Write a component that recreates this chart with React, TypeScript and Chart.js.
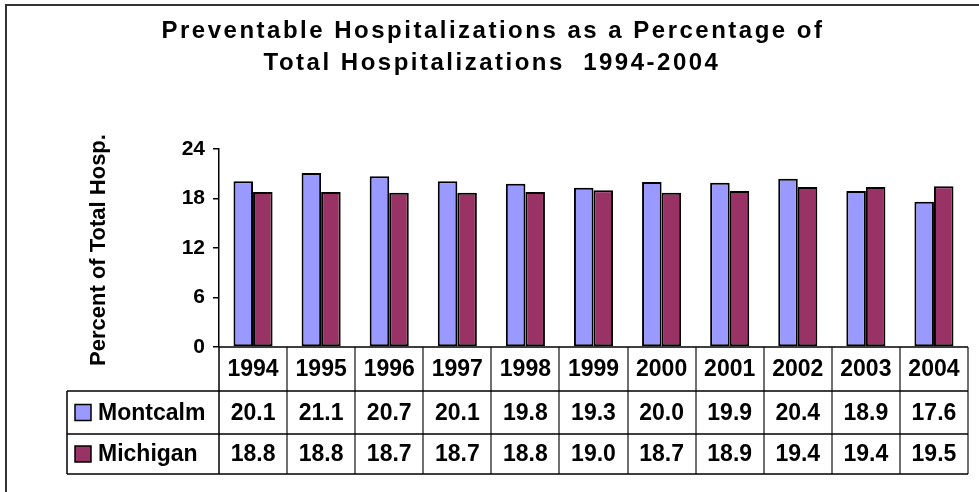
import React, { useEffect, useRef } from "react";
import { Chart, registerables } from "chart.js";

Chart.register(...registerables);

const years = ["1994", "1995", "1996", "1997", "1998", "1999", "2000", "2001", "2002", "2003", "2004"];
const montcalm = [20.1, 21.1, 20.7, 20.1, 19.8, 19.3, 20.0, 19.9, 20.4, 18.9, 17.6];
const michigan = [18.8, 18.8, 18.7, 18.7, 18.8, 19.0, 18.7, 18.9, 19.4, 19.4, 19.5];
const seriesNames = ["Montcalm", "Michigan"];
const seriesColors = ["#9999FF", "#993366"];
const titleLines = ["Preventable Hospitalizations as a Percentage of", "Total Hospitalizations  1994-2004"];
const yTitle = "Percent of Total Hosp.";
const yMin = 0;
const yMax = 24;
const yStep = 6;

const FONT = '"Liberation Sans", Arial, Helvetica, sans-serif';

const tablePlugin = {
  id: "tablePlugin",
  afterDraw(chart: any) {
    const ctx = chart.ctx as CanvasRenderingContext2D;
    const area = chart.chartArea;
    const xs = chart.scales.x;
    ctx.save();

    // outer frame (top and left visible)
    ctx.strokeStyle = "#333";
    ctx.lineWidth = 2;
    ctx.beginPath();
    ctx.moveTo(6, chart.height + 2);
    ctx.lineTo(6, 5);
    ctx.lineTo(chart.width + 2, 5);
    ctx.stroke();

    // title
    ctx.fillStyle = "#000";
    ctx.font = `bold 24px ${FONT}`;
    ctx.textAlign = "center";
    ctx.textBaseline = "alphabetic";
    (ctx as any).letterSpacing = "2.5px";
    ctx.fillText(titleLines[0], 493, 38);
    ctx.fillText(titleLines[1], 492, 70);
    (ctx as any).letterSpacing = "0px";

    // y title
    ctx.save();
    ctx.translate(99, 250);
    ctx.rotate(-Math.PI / 2);
    ctx.font = `bold 22px ${FONT}`;
    ctx.textAlign = "center";
    ctx.textBaseline = "middle";
    ctx.fillText(yTitle, 0, 0);
    ctx.restore();

    // table geometry
    const n = years.length;
    const step = xs.getPixelForValue(1) - xs.getPixelForValue(0);
    const left = area.left;
    const right = area.right;
    const top = area.bottom;
    const rowH = [44, 43, 40];
    const r1 = top + rowH[0];
    const r2 = r1 + rowH[1];
    const r3 = r2 + rowH[2];
    const tableLeft = 67;

    // vertical separators (gray)
    ctx.strokeStyle = "#707070";
    ctx.lineWidth = 2;
    for (let i = 1; i <= n; i++) {
      const x = Math.round(xs.getPixelForValue(i) - step / 2);
      ctx.beginPath();
      ctx.moveTo(x, top);
      ctx.lineTo(x, r3);
      ctx.stroke();
    }

    // black lines
    ctx.strokeStyle = "#000";
    ctx.lineWidth = 1.5;
    ctx.beginPath();
    ctx.moveTo(left, top);
    ctx.lineTo(right, top);
    ctx.moveTo(tableLeft, r1);
    ctx.lineTo(right, r1);
    ctx.moveTo(tableLeft, r2);
    ctx.lineTo(right, r2);
    ctx.moveTo(tableLeft, r3);
    ctx.lineTo(right, r3);
    ctx.moveTo(tableLeft, r1);
    ctx.lineTo(tableLeft, r3);
    ctx.moveTo(left, top);
    ctx.lineTo(left, r3);
    ctx.stroke();

    // text
    ctx.fillStyle = "#000";
    ctx.font = `bold 23px ${FONT}`;
    ctx.textAlign = "center";
    ctx.textBaseline = "middle";
    const rowsData = [montcalm, michigan];
    const rowCenters = [(top + r1) / 2 + 1, (r1 + r2) / 2 + 1, (r2 + r3) / 2 + 1];
    for (let i = 0; i < n; i++) {
      const cx = xs.getPixelForValue(i);
      ctx.fillText(years[i], cx, rowCenters[0]);
      ctx.fillText(rowsData[0][i].toFixed(1), cx, rowCenters[1]);
      ctx.fillText(rowsData[1][i].toFixed(1), cx, rowCenters[2]);
    }

    // legend keys + names
    ctx.textAlign = "left";
    for (let s = 0; s < 2; s++) {
      const cy = rowCenters[s + 1] - 1;
      ctx.fillStyle = seriesColors[s];
      ctx.fillRect(75, cy - 8, 16, 16);
      ctx.strokeStyle = "#000";
      ctx.lineWidth = 1.5;
      ctx.strokeRect(75, cy - 8, 16, 16);
      ctx.fillStyle = "#000";
      ctx.fillText(seriesNames[s], 98, cy + 1);
    }

    ctx.restore();
  },
};

export default function App() {
  const ref = useRef<HTMLCanvasElement | null>(null);
  useEffect(() => {
    document.body.style.margin = "0";
    const canvas = ref.current;
    if (!canvas) return;
    const chart = new Chart(canvas, {
      type: "bar",
      data: {
        labels: years,
        datasets: [
          {
            label: seriesNames[0],
            data: montcalm,
            backgroundColor: seriesColors[0],
            borderColor: "#000",
            borderWidth: 2,
            borderSkipped: false,
            categoryPercentage: 0.574,
            barPercentage: 1,
          },
          {
            label: seriesNames[1],
            data: michigan,
            backgroundColor: seriesColors[1],
            borderColor: "#000",
            borderWidth: 2,
            borderSkipped: false,
            categoryPercentage: 0.574,
            barPercentage: 1,
          },
        ],
      },
      options: {
        responsive: false,
        animation: false,
        layout: { padding: { top: 149, bottom: 145, right: 11, left: 0 } },
        plugins: {
          legend: { display: false },
          tooltip: { enabled: false },
          title: { display: false },
        },
        scales: {
          x: { display: false },
          y: {
            min: yMin,
            max: yMax,
            ticks: {
              stepSize: yStep,
              color: "#000",
              padding: 8,
              font: { family: FONT, size: 21, weight: "bold" },
            },
            grid: {
              drawOnChartArea: false,
              drawTicks: true,
              tickLength: 6,
              color: "#000",
              lineWidth: 1.5,
            },
            border: { display: true, color: "#000", width: 1.5 },
            afterFit: (scale: any) => {
              scale.width = 219;
            },
          },
        },
      },
      plugins: [tablePlugin],
    });
    return () => chart.destroy();
  }, []);
  return (
    <div style={{ position: "fixed", left: 0, top: 0, width: 979, height: 492, background: "#fff" }}>
      <canvas ref={ref} width={979} height={492} />
    </div>
  );
}
